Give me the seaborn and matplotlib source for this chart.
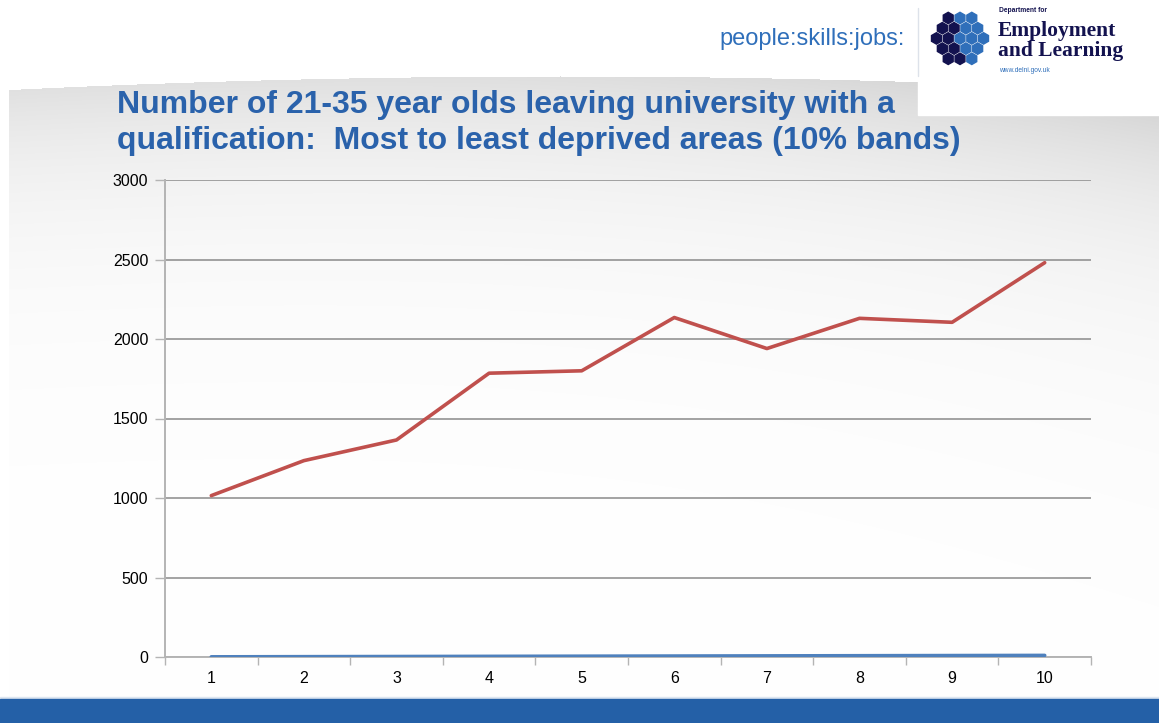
import numpy as np
import pandas as pd
import matplotlib
matplotlib.use("Agg")
import matplotlib.pyplot as plt
from matplotlib.patches import RegularPolygon, Rectangle
import seaborn as sns

# Deprivation bands (1 = most deprived, 10 = least deprived)
bands = [1, 2, 3, 4, 5, 6, 7, 8, 9, 10]
qualifiers = [1015, 1235, 1365, 1785, 1800, 2135, 1940, 2130, 2105, 2480]
band_ids = [1, 2, 3, 4, 5, 6, 7, 8, 9, 10]
y_ticks = [0, 500, 1000, 1500, 2000, 2500, 3000]
title_text = ("Number of 21-35 year olds leaving university with a\n"
              "qualification:  Most to least deprived areas (10% bands)")

W, H = 1159, 723
sns.set_theme(style="white")
plt.rcParams["font.family"] = ["Liberation Sans", "DejaVu Sans"]

fig = plt.figure(figsize=(W / 100, H / 100), dpi=100)

# Slide background: white header, soft grey swoosh fading to white
bg = fig.add_axes([0, 0, 1, 1])
bg.set_xlim(0, W)
bg.set_ylim(H, 0)
bg.axis("off")
xx, yy = np.meshgrid(np.arange(W), np.arange(H))
top = 76 + 14 * ((xx - 560) / 560.0) ** 2
depth = yy - top
shade = 0.12 * np.exp(-depth / 110.0) + 0.07 * (xx / W) ** 3 * np.exp(-depth / 160.0)
shade = np.where((depth < 0) | (xx < 9), 0.0, shade)
img = 1.0 - shade
bg.imshow(np.dstack([img, img, img]), extent=(0, W, H, 0), aspect="auto", zorder=0)
bg.add_patch(Rectangle((918, 0), W - 918, 115, color="white", zorder=1))
# bottom band
bg.add_patch(Rectangle((0, 697), W, 3, color="#dde6f1", zorder=1))
bg.add_patch(Rectangle((0, 699), W, 24, color="#2460a7", zorder=1))

# Header branding
bg.text(905, 39, "people:skills:jobs:", color="#2f6fba", fontsize=17,
        ha="right", va="center", zorder=2)
bg.plot([918, 918], [8, 76], color="#dde2ea", lw=1, zorder=2)
hex_r = 6.8
hx = hex_r * np.sqrt(3)
row_counts = [3, 4, 5, 4, 3]
for ri, n in enumerate(row_counts):
    cy = 18 + ri * hex_r * 1.5
    for k in range(n):
        cx = 960 + (k - (n - 1) / 2) * hx
        navy = cx < 958 or (ri >= 3 and cx < 962)
        bg.add_patch(RegularPolygon((cx, cy), 6, radius=hex_r * 0.84, orientation=0,
                                    color="#13124f" if navy else "#2f6fba", zorder=2))
bg.text(999, 10, "Department for", fontsize=4.8, color="#13124f", va="center",
        fontweight="bold", zorder=2)
bg.text(998, 31, "Employment", fontsize=15.5, color="#13124f", va="center",
        family=["Liberation Serif"], fontweight="bold", zorder=2)
bg.text(998, 51, "and Learning", fontsize=15.5, color="#13124f", va="center",
        family=["Liberation Serif"], fontweight="bold", zorder=2)
bg.text(999, 70, "www.delni.gov.uk", fontsize=4.8, color="#2f6fba", va="center",
        zorder=2)

# Title
bg.text(117, 123, title_text, color="#2a62ab", fontsize=23, fontweight="bold",
        ha="left", va="center", linespacing=1.28, zorder=2)

# Chart
ax = fig.add_axes([165 / W, 1 - 657 / H, (1091 - 165) / W, (657 - 180) / H])
ax.patch.set_alpha(0)
df = pd.DataFrame({"band": bands + bands,
                   "value": band_ids + qualifiers,
                   "series": ["Band"] * len(bands) + ["Qualified leavers"] * len(bands)})
sns.lineplot(data=df, x="band", y="value", hue="series",
             palette={"Band": "#4f81bd", "Qualified leavers": "#c0504d"},
             linewidth=2.6, legend=False, ax=ax, zorder=3)
ax.set_xlim(0.5, 10.5)
ax.set_ylim(0, 3000)
ax.set_yticks(y_ticks)
ax.set_xticks(bands)
ax.set_xticks(np.arange(0.5, 11, 1), minor=True)
ax.set_xlabel("")
ax.set_ylabel("")
ax.yaxis.grid(True, color="#8a8a8a", linewidth=1.1)
ax.xaxis.grid(False)
for s in ["top", "right"]:
    ax.spines[s].set_visible(False)
for s in ["left", "bottom"]:
    ax.spines[s].set_color("#b4b4b4")
    ax.spines[s].set_linewidth(1.4)
ax.tick_params(axis="y", which="major", length=7, width=1, color="#b4b4b4",
               labelsize=11.5, labelcolor="black", pad=5, left=True)
ax.tick_params(axis="x", which="major", length=0, labelsize=11.5,
               labelcolor="black", pad=10)
ax.tick_params(axis="x", which="minor", length=6, width=1, color="#b4b4b4",
               bottom=True)

fig.savefig("out.png", dpi=100)
